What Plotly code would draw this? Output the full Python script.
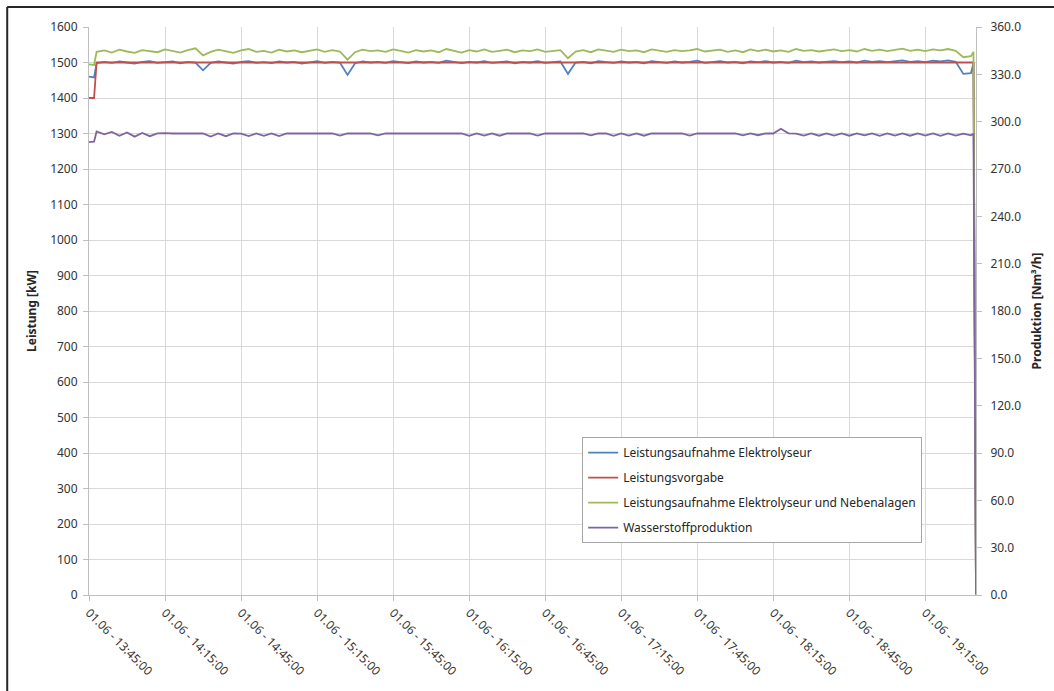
import pandas as pd
import plotly.graph_objects as go

# time base: minute offsets after 01.06 13:45:00
start_time = "2014-06-01 13:45:00"
minute_offsets = [0, 2] + list(range(3, 349, 3)) + [349, 350]

leistung_elektrolyseur = [
    1460, 1458, 1498, 1502, 1499, 1503, 1500, 1497, 1502, 1504,
    1499, 1501, 1503, 1498, 1502, 1500, 1478, 1499, 1503, 1500,
    1497, 1502, 1504, 1499, 1501, 1498, 1503, 1500, 1502, 1497,
    1501, 1504, 1499, 1502, 1500, 1465, 1498, 1503, 1500, 1502,
    1499, 1504, 1501, 1498, 1503, 1500, 1502, 1499, 1505, 1501,
    1498, 1502, 1500, 1504, 1499, 1501, 1503, 1498, 1502, 1500,
    1504, 1499, 1501, 1503, 1468, 1500, 1502, 1498, 1504, 1501,
    1499, 1503, 1500, 1502, 1498, 1504, 1501, 1499, 1503, 1500,
    1502, 1505, 1499, 1501, 1504, 1500, 1502, 1498, 1503, 1501,
    1504, 1500, 1502, 1499, 1505, 1501, 1503, 1500, 1502, 1504,
    1501, 1503, 1500, 1505, 1502, 1504, 1501, 1503, 1506, 1502,
    1504, 1501, 1505, 1503, 1506, 1502, 1468, 1470, 1498, 0,
]

leistungsvorgabe = [1400, 1400] + [1500] * 117 + [8]

leistung_gesamt = [
    1495, 1493, 1530, 1534, 1528, 1536, 1531, 1527, 1535, 1532,
    1529, 1537, 1533, 1528, 1535, 1540, 1520, 1530, 1536, 1532,
    1527, 1534, 1538, 1530, 1533, 1528, 1536, 1531, 1534, 1529,
    1533, 1537, 1530, 1535, 1531, 1508, 1529, 1536, 1532, 1534,
    1530, 1537, 1533, 1528, 1535, 1531, 1534, 1529, 1538, 1532,
    1528, 1535, 1531, 1537, 1530, 1533, 1536, 1529, 1534, 1532,
    1537, 1530, 1533, 1535, 1512, 1531, 1535, 1529, 1537, 1533,
    1530, 1536, 1532, 1534, 1529, 1537, 1533, 1530, 1535, 1532,
    1534, 1538, 1531, 1533, 1536, 1530, 1534, 1529, 1537, 1532,
    1536, 1531, 1534, 1530, 1538, 1533, 1535, 1531, 1534, 1537,
    1532, 1535, 1531, 1538, 1533, 1536, 1532, 1535, 1539, 1533,
    1536, 1532, 1537, 1534, 1538, 1533, 1515, 1518, 1530, 0,
]

wasserstoff = [
    287.0, 287.3, 293.8, 292.0, 293.5, 291.0, 293.2, 290.5, 292.8, 290.8,
    292.6, 292.8, 292.5, 292.5, 292.4, 292.5, 292.5, 290.6, 292.5, 290.8,
    292.5, 292.4, 290.9, 292.5, 291.0, 292.5, 290.9, 292.5, 292.6, 292.5,
    292.5, 292.6, 292.5, 292.5, 291.2, 292.5, 292.6, 292.5, 292.5, 291.3,
    292.6, 292.5, 292.5, 292.6, 292.5, 292.5, 292.6, 292.5, 292.5, 292.6,
    292.5, 291.0, 292.6, 291.2, 292.5, 291.1, 292.5, 292.6, 292.5, 292.5,
    291.2, 292.5, 292.6, 292.5, 292.5, 292.6, 292.5, 291.3, 292.6, 292.5,
    291.0, 292.6, 291.2, 292.5, 291.1, 292.6, 292.5, 292.6, 292.5, 292.5,
    291.2, 292.6, 292.5, 292.7, 292.5, 292.6, 292.5, 291.3, 292.6, 291.4,
    292.6, 292.5, 295.5, 292.6, 292.4, 291.2, 292.6, 291.1, 292.5, 291.2,
    292.6, 291.1, 292.5, 291.3, 292.6, 291.0, 292.5, 291.2, 292.6, 291.1,
    292.5, 291.2, 292.6, 291.0, 292.5, 291.2, 292.4, 291.3, 292.3, 0.5,
]

names = [
    "Leistungsaufnahme Elektrolyseur",
    "Leistungsvorgabe",
    "Leistungsaufnahme Elektrolyseur und Nebenalagen",
    "Wasserstoffproduktion",
]
colors = ["#4f81bd", "#c0504d", "#9bbb59", "#8064a2"]

t0 = pd.Timestamp(start_time)
times = [t0 + pd.Timedelta(minutes=m) for m in minute_offsets]

fig = go.Figure()
series = [leistung_elektrolyseur, leistungsvorgabe, leistung_gesamt]
for i, vals in enumerate(series):
    fig.add_trace(go.Scatter(x=times, y=vals, mode="lines", name=names[i],
                             line=dict(color=colors[i], width=1.8),
                             legendgroup=f"g{i}"))
fig.add_trace(go.Scatter(x=times, y=wasserstoff, mode="lines", name=names[3],
                         line=dict(color=colors[3], width=1.8), yaxis="y2",
                         legendgroup="g3"))

font_fam = "Noto Sans"
fig.update_layout(
    width=1054, height=691,
    margin=dict(l=89, r=76, t=27, b=96),
    paper_bgcolor="white", plot_bgcolor="white",
    font=dict(family=font_fam, size=12, color="#333333"),
    showlegend=True,
    legend=dict(x=0.556, y=0.278, xanchor="left", yanchor="top",
                bgcolor="white", bordercolor="#a6a6a6", borderwidth=1,
                font=dict(size=12, color="#262626"),
                traceorder="grouped", tracegroupgap=6),
    xaxis=dict(type="date", range=[times[0], times[-1]],
               tick0=times[0], dtick=30 * 60 * 1000,
               tickformat="%d.%m - %H:%M:%S", tickangle=45,
               showgrid=True, gridcolor="#d9d9d9", gridwidth=1,
               ticks="outside", ticklen=5, tickcolor="#bfbfbf",
               showline=True, linecolor="#bfbfbf", zeroline=False,
               tickfont=dict(size=12)),
    yaxis=dict(range=[0, 1600], dtick=100, showgrid=True,
               gridcolor="#d9d9d9", gridwidth=1, zeroline=False,
               ticks="outside", ticklen=5, tickcolor="#bfbfbf",
               showline=True, linecolor="#bfbfbf", ticklabelstandoff=3,
               title=dict(text="<b>Leistung [kW]</b>", font=dict(size=12, color="#262626"),
                          standoff=10)),
    yaxis2=dict(range=[0, 360], dtick=30, tickformat=".1f", overlaying="y",
                side="right", showgrid=False, zeroline=False,
                ticks="outside", ticklen=5, tickcolor="#bfbfbf",
                showline=True, linecolor="#bfbfbf", ticklabelstandoff=6,
                title=dict(text="<b>Produktion [Nm³/h]</b>", font=dict(size=12, color="#262626"),
                           standoff=12)),
    shapes=[
        dict(type="line", xref="paper", yref="paper",
             x0=-0.0922, x1=-0.0922, y0=-0.2, y1=1.035,
             line=dict(color="#262626", width=2), layer="above"),
        dict(type="line", xref="paper", yref="paper",
             x0=-0.0922, x1=1.12, y0=1.035, y1=1.035,
             line=dict(color="#262626", width=2), layer="above"),
    ],
)

fig.write_html("out.html")
